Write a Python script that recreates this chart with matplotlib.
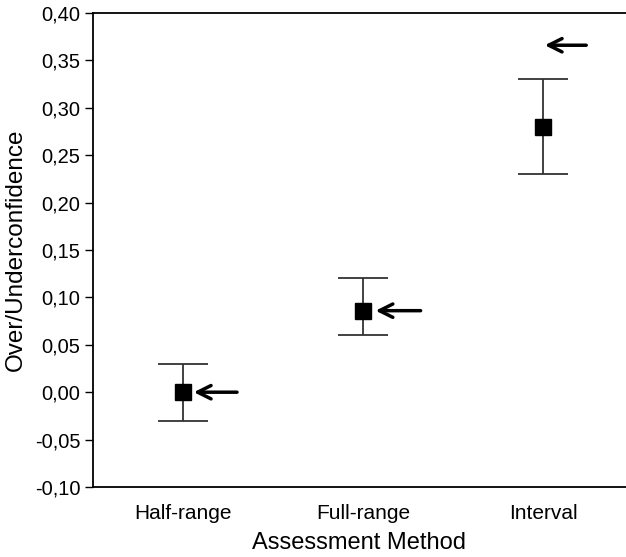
import matplotlib
matplotlib.use("Agg")
import matplotlib.pyplot as plt
from matplotlib.ticker import FuncFormatter

plt.rcParams["font.family"] = ["Liberation Sans", "DejaVu Sans"]

# data
methods = ["Half-range", "Full-range", "Interval"]
means = [0.0, 0.086, 0.28]
lower = [-0.03, 0.06, 0.23]
upper = [0.03, 0.12, 0.33]
arrow_vals = [0.0, 0.086, 0.366]

fig = plt.figure(figsize=(6.26, 5.57), dpi=100)
ax = fig.add_axes([93 / 626, 70 / 557, 533 / 626, 474 / 557])

x = list(range(len(methods)))
err_lo = [m - l for m, l in zip(means, lower)]
err_hi = [u - m for m, u in zip(means, upper)]
ax.errorbar(x, means, yerr=[err_lo, err_hi], fmt="none", ecolor="#333333",
            elinewidth=1.3, capsize=18, capthick=1.3, zorder=2)
ax.plot(x, means, "s", color="black", markersize=11.5, zorder=3)

# arrows pointing at the reference values
offsets = [(0.06, 0.3), (0.07, 0.32), (0.01, 0.24)]
for xi, v, (tip, tail) in zip(x, arrow_vals, offsets):
    ax.annotate("", xy=(xi + tip, v), xytext=(xi + tail, v),
                arrowprops=dict(arrowstyle="->", lw=2.5, color="black",
                                mutation_scale=24, shrinkA=0, shrinkB=0))

ax.set_xlim(-0.5, 2.461)
ax.set_ylim(-0.10, 0.40)
ax.set_yticks([-0.10 + 0.05 * i for i in range(11)])
ax.yaxis.set_major_formatter(FuncFormatter(lambda v, p: f"{v:.2f}".replace(".", ",").replace("-0,00", "0,00")))
ax.set_xticks(x)
ax.set_xticklabels(methods)
ax.tick_params(axis="x", length=0, pad=12, labelsize=15)
ax.tick_params(axis="y", length=6, width=1, labelsize=14.5, pad=3)

for s in ["left", "bottom", "top"]:
    ax.spines[s].set_linewidth(1.3)
ax.spines["right"].set_visible(False)

ax.set_xlabel("Assessment Method", fontsize=17, labelpad=7)
ax.set_ylabel("Over/Underconfidence", fontsize=17.5, labelpad=6)

fig.savefig("out.png", dpi=100)
